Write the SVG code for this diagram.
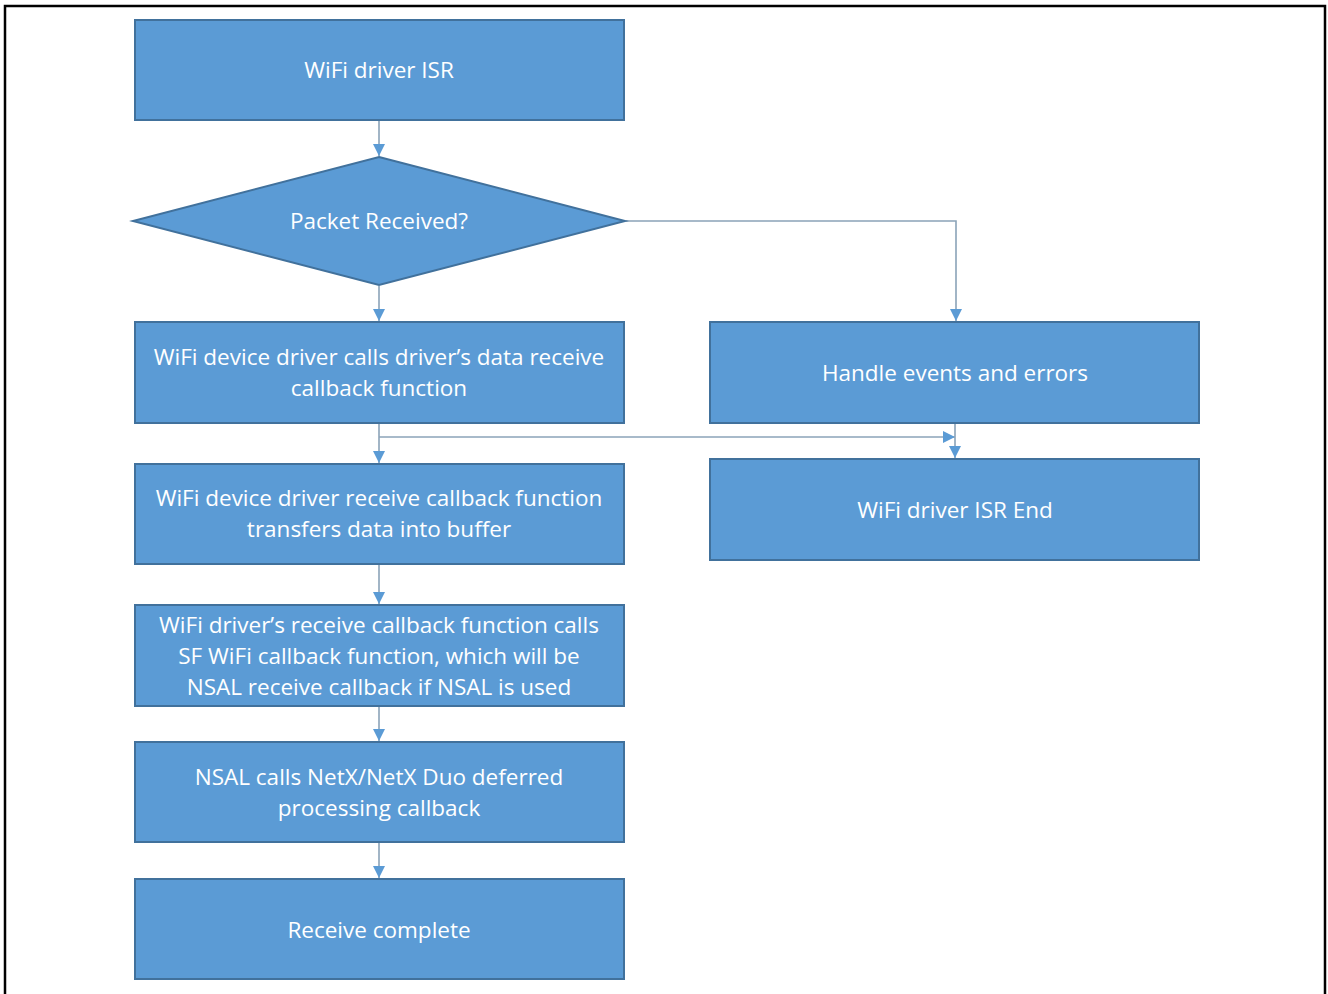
<svg xmlns="http://www.w3.org/2000/svg" width="1328" height="994" viewBox="0 0 1328 994">
  <defs>
    <marker id="arrow" viewBox="0 0 10 10" refX="10" refY="5" markerWidth="12" markerHeight="12" markerUnits="userSpaceOnUse" orient="auto">
      <path d="M0,0 L10,5 L0,10 z" fill="#5B9BD5"/>
    </marker>
    <style>
      .node { fill: #5B9BD5; stroke: #41719C; stroke-width: 2; }
      .label { font-family: "Open Sans", "Noto Sans", sans-serif; font-size: 22.5px; fill: #ffffff; text-anchor: middle; }
      .conn { fill: none; stroke: #8BA3B8; stroke-width: 1.6; marker-end: url(#arrow); }
    </style>
  </defs>
  <rect width="1328" height="994" fill="#ffffff"/>
  <!-- frame -->
  <path d="M5,996 L5,6 L1325,6 L1325,996" fill="none" stroke="#000000" stroke-width="2.5"/>

  <g id="connectors">
    <path class="conn" d="M379,121 L379,156"/>
    <path class="conn" d="M379,286 L379,321"/>
    <path class="conn" d="M626,221 L956,221 L956,321"/>
    <path class="conn" d="M379,424 L379,463"/>
    <path class="conn" d="M379,437 L955,437"/>
    <path class="conn" d="M955,424 L955,458"/>
    <path class="conn" d="M379,565 L379,604"/>
    <path class="conn" d="M379,707 L379,741"/>
    <path class="conn" d="M379,843 L379,878"/>
  </g>

  <g id="isr-start">
    <rect class="node" x="135" y="20" width="489" height="100"/>
    <text class="label" x="379" y="78">WiFi driver ISR</text>
  </g>
  <g id="packet-received">
    <polygon class="node" points="379,157 625,221 379,285 133,221"/>
    <text class="label" x="379" y="229">Packet Received?</text>
  </g>
  <g id="driver-calls-callback">
    <rect class="node" x="135" y="322" width="489" height="101"/>
    <text class="label" x="379" y="365">WiFi device driver calls driver’s data receive</text>
    <text class="label" x="379" y="396">callback function</text>
  </g>
  <g id="handle-events">
    <rect class="node" x="710" y="322" width="489" height="101"/>
    <text class="label" x="955" y="381">Handle events and errors</text>
  </g>
  <g id="isr-end">
    <rect class="node" x="710" y="459" width="489" height="101"/>
    <text class="label" x="955" y="518">WiFi driver ISR End</text>
  </g>
  <g id="transfer-buffer">
    <rect class="node" x="135" y="464" width="489" height="100"/>
    <text class="label" x="379" y="506">WiFi device driver receive callback function</text>
    <text class="label" x="379" y="537">transfers data into buffer</text>
  </g>
  <g id="sf-callback">
    <rect class="node" x="135" y="605" width="489" height="101"/>
    <text class="label" x="379" y="633">WiFi driver’s receive callback function calls</text>
    <text class="label" x="379" y="664">SF WiFi callback function, which will be</text>
    <text class="label" x="379" y="695">NSAL receive callback if NSAL is used</text>
  </g>
  <g id="netx-deferred">
    <rect class="node" x="135" y="742" width="489" height="100"/>
    <text class="label" x="379" y="785">NSAL calls NetX/NetX Duo deferred</text>
    <text class="label" x="379" y="816">processing callback</text>
  </g>
  <g id="receive-complete">
    <rect class="node" x="135" y="879" width="489" height="100"/>
    <text class="label" x="379" y="938">Receive complete</text>
  </g>
</svg>
